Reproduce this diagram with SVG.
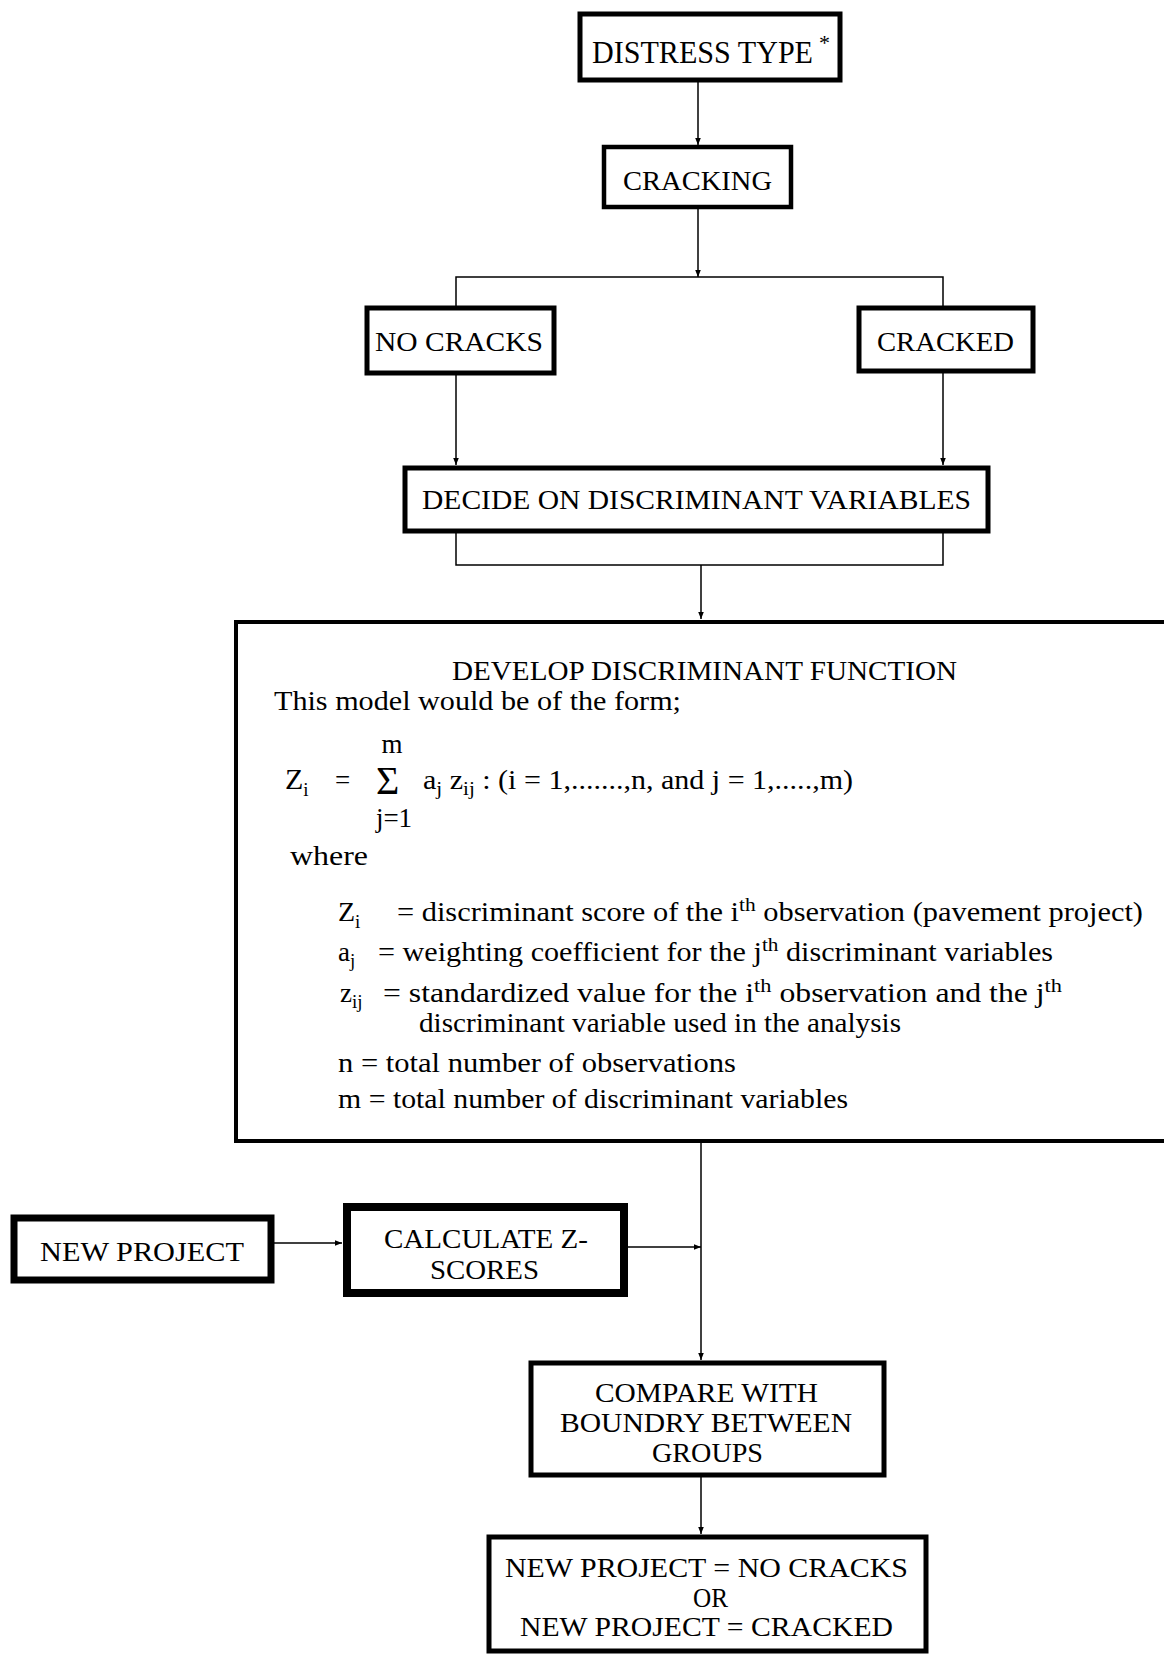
<svg xmlns="http://www.w3.org/2000/svg" width="1164" height="1655" viewBox="0 0 1164 1655">
<defs>
<marker id="ah" viewBox="0 0 10 10" refX="10" refY="5" markerWidth="7" markerHeight="7" markerUnits="userSpaceOnUse" orient="auto">
<path d="M0,1 L10,5 L0,9 z" fill="#000"/>
</marker>
<style>
.box{fill:#fff;stroke:#000}
.t{font-family:"Liberation Serif","Times New Roman",serif;fill:#000;font-size:28px}
.b{font-family:"Liberation Serif","Times New Roman",serif;fill:#000;font-size:27px}
.s{font-size:19px}
.c{stroke:#000;stroke-width:1.5;fill:none}
</style>
</defs>
<rect width="1164" height="1655" fill="#fff"/>

<g id="connectors">
<line class="c" x1="698" y1="82" x2="698" y2="145" marker-end="url(#ah)"/>
<line class="c" x1="698" y1="209" x2="698" y2="277" marker-end="url(#ah)"/>
<polyline class="c" points="456,306 456,277 943,277 943,306"/>
<line class="c" x1="456" y1="375" x2="456" y2="465" marker-end="url(#ah)"/>
<line class="c" x1="943" y1="372" x2="943" y2="465" marker-end="url(#ah)"/>
<polyline class="c" points="456,533 456,565 943,565 943,533"/>
<line class="c" x1="701" y1="565" x2="701" y2="619" marker-end="url(#ah)"/>
<line class="c" x1="701" y1="1143" x2="701" y2="1360" marker-end="url(#ah)"/>
<line class="c" x1="274" y1="1243" x2="342" y2="1243" marker-end="url(#ah)"/>
<line class="c" x1="628" y1="1247" x2="701" y2="1247" marker-end="url(#ah)"/>
<line class="c" x1="701" y1="1477" x2="701" y2="1534" marker-end="url(#ah)"/>
</g>

<g id="distress">
<rect class="box" x="580" y="14" width="260" height="66" stroke-width="5"/>
<text class="t" x="592" y="63" style="font-size:31px" textLength="221" lengthAdjust="spacingAndGlyphs">DISTRESS TYPE</text>
<text class="t" x="819" y="50" style="font-size:22px">*</text>
</g>

<g id="cracking">
<rect class="box" x="604" y="147" width="187" height="60" stroke-width="4.5"/>
<text class="t" x="623" y="190" textLength="149" lengthAdjust="spacingAndGlyphs">CRACKING</text>
</g>

<g id="nocracks">
<rect class="box" x="367" y="308" width="187" height="65" stroke-width="5"/>
<text class="t" x="375" y="351" textLength="168" lengthAdjust="spacingAndGlyphs">NO CRACKS</text>
</g>

<g id="cracked">
<rect class="box" x="859" y="308" width="174" height="63" stroke-width="5"/>
<text class="t" x="877" y="351" textLength="137" lengthAdjust="spacingAndGlyphs">CRACKED</text>
</g>

<g id="decide">
<rect class="box" x="405" y="468" width="583" height="63" stroke-width="5"/>
<text class="t" x="422" y="509" textLength="549" lengthAdjust="spacingAndGlyphs">DECIDE ON DISCRIMINANT VARIABLES</text>
</g>

<g id="develop">
<rect class="box" x="236" y="622" width="940" height="519" stroke-width="4"/>
<text class="b" x="452" y="680" textLength="505" lengthAdjust="spacingAndGlyphs">DEVELOP DISCRIMINANT FUNCTION</text>
<text class="b" x="274" y="710" textLength="407" lengthAdjust="spacingAndGlyphs">This model would be of the form;</text>
<text class="b" x="285" y="789" style="font-size:30px">Z<tspan class="s" dy="7">i</tspan></text>
<text class="b" x="335" y="789">=</text>
<text class="b" x="376" y="794" style="font-size:40px">Σ</text>
<text class="b" x="392" y="753" style="font-size:27px" text-anchor="middle">m</text>
<text class="b" x="394" y="827" style="font-size:27px" text-anchor="middle">j=1</text>
<text class="b" x="423" y="789" textLength="430" lengthAdjust="spacingAndGlyphs">a<tspan class="s" dy="6">j</tspan><tspan dy="-6"> z</tspan><tspan class="s" dy="6">ij</tspan><tspan dy="-6"> : (i = 1,.......,n, and j = 1,.....,m)</tspan></text>
<text class="b" x="290" y="865" textLength="78" lengthAdjust="spacingAndGlyphs">where</text>
<text class="b" x="338" y="921" style="font-size:28px">Z<tspan class="s" dy="7">i</tspan></text>
<text class="b" x="397" y="921" textLength="746" lengthAdjust="spacingAndGlyphs">= discriminant score of the i<tspan class="s" dy="-10">th</tspan><tspan dy="10"> observation (pavement project)</tspan></text>
<text class="b" x="338" y="961">a<tspan class="s" dy="6">j</tspan></text>
<text class="b" x="378" y="961" textLength="675" lengthAdjust="spacingAndGlyphs">= weighting coefficient for the j<tspan class="s" dy="-10">th</tspan><tspan dy="10"> discriminant variables</tspan></text>
<text class="b" x="340" y="1002">z<tspan class="s" dy="6">ij</tspan></text>
<text class="b" x="383" y="1002" textLength="679" lengthAdjust="spacingAndGlyphs">= standardized value for the i<tspan class="s" dy="-10">th</tspan><tspan dy="10"> observation and the j</tspan><tspan class="s" dy="-10">th</tspan></text>
<text class="b" x="419" y="1032" textLength="482" lengthAdjust="spacingAndGlyphs">discriminant variable used in the analysis</text>
<text class="b" x="338" y="1072" textLength="398" lengthAdjust="spacingAndGlyphs">n = total number of observations</text>
<text class="b" x="338" y="1108" textLength="510" lengthAdjust="spacingAndGlyphs">m = total number of discriminant variables</text>
</g>

<g id="newproject">
<rect class="box" x="14" y="1218" width="257" height="62" stroke-width="7"/>
<text class="t" x="40" y="1261" textLength="204" lengthAdjust="spacingAndGlyphs">NEW PROJECT</text>
</g>

<g id="calculate">
<rect class="box" x="347" y="1207" width="277" height="86" stroke-width="8"/>
<text class="t" x="384" y="1248" textLength="204" lengthAdjust="spacingAndGlyphs">CALCULATE Z-</text>
<text class="t" x="430" y="1279" textLength="109" lengthAdjust="spacingAndGlyphs">SCORES</text>
</g>

<g id="compare">
<rect class="box" x="531" y="1363" width="353" height="112" stroke-width="5"/>
<text class="t" x="595" y="1402" textLength="223" lengthAdjust="spacingAndGlyphs">COMPARE WITH</text>
<text class="t" x="560" y="1432" textLength="292" lengthAdjust="spacingAndGlyphs">BOUNDRY BETWEEN</text>
<text class="t" x="652" y="1462" textLength="111" lengthAdjust="spacingAndGlyphs">GROUPS</text>
</g>

<g id="result">
<rect class="box" x="489" y="1537" width="437" height="114" stroke-width="5"/>
<text class="t" x="505" y="1577" textLength="403" lengthAdjust="spacingAndGlyphs">NEW PROJECT = NO CRACKS</text>
<text class="t" x="693" y="1607" textLength="35" lengthAdjust="spacingAndGlyphs">OR</text>
<text class="t" x="520" y="1636" textLength="373" lengthAdjust="spacingAndGlyphs">NEW PROJECT = CRACKED</text>
</g>
</svg>
